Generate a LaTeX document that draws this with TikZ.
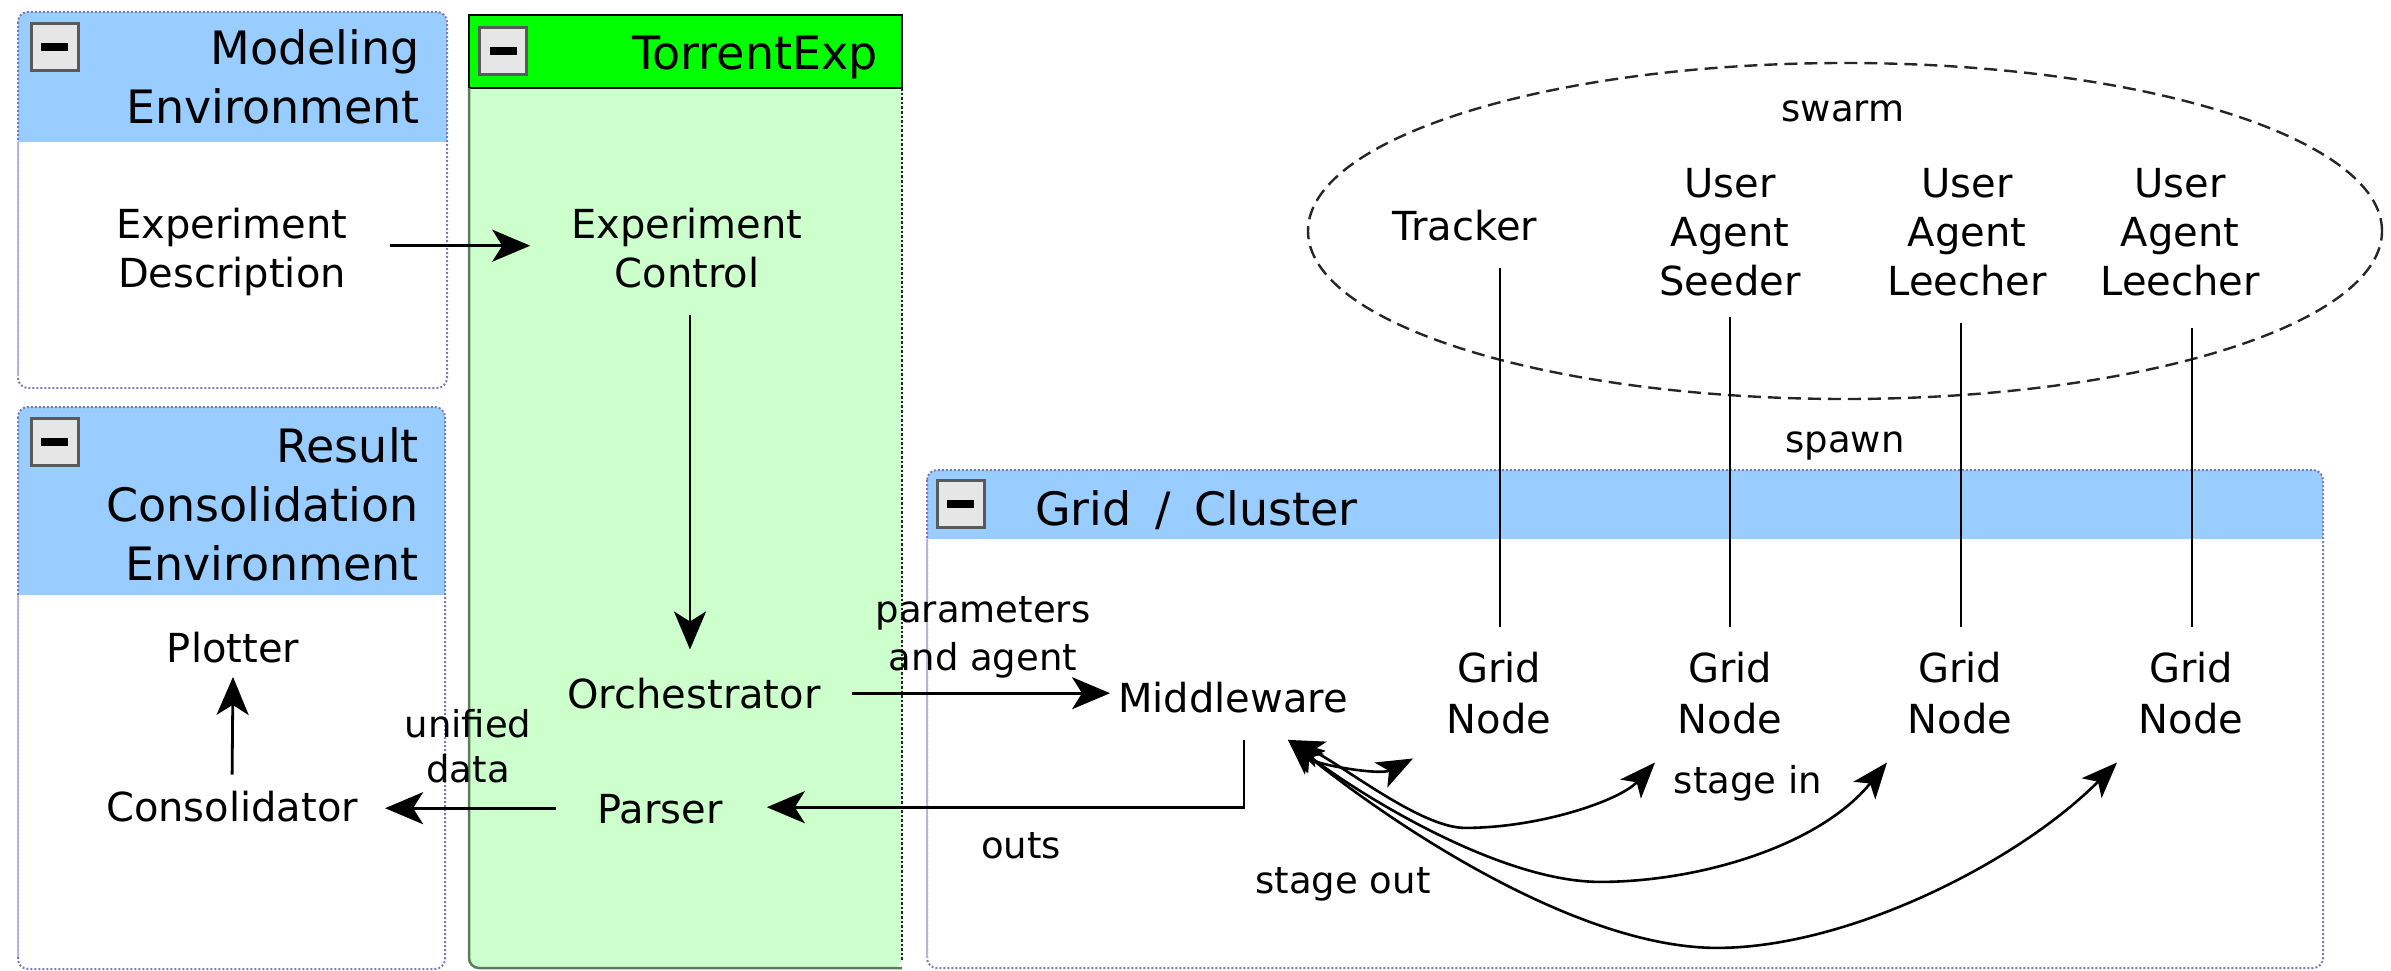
\documentclass[tikz,border=0pt]{standalone}
\usepackage{fontspec}
\setmainfont{DejaVu Sans}
\usetikzlibrary{arrows.meta,shapes.geometric}

\definecolor{hdrblue}{HTML}{99CCFF}
\definecolor{paleGreen}{HTML}{CCFFCC}
\definecolor{vividGreen}{HTML}{00FF00}
\definecolor{frameDot}{HTML}{7A7AB4}
\definecolor{frameSolid}{HTML}{B4B4DC}
\definecolor{btnFace}{HTML}{E6E6E6}
\definecolor{btnEdge}{HTML}{5A5A5A}
\definecolor{greenEdge}{HTML}{5C7C5C}

% stacked lines, the node's base is the baseline of the first line
\newcommand\mlines[2][c]{\begin{tabular}[t]{@{}#1@{}}#2\end{tabular}}

\tikzset{
  every node/.style={inner sep=0pt},
  nodetxt/.style={font=\fontsize{40}{49}\selectfont, anchor=base},
  gridtxt/.style={font=\fontsize{40}{51}\selectfont, anchor=base},
  lbltxt/.style={font=\fontsize{37}{47}\selectfont, anchor=base},
  hdrtxt/.style={font=\fontsize{46}{59}\selectfont},
  btn/.style={draw=btnEdge, fill=btnFace, line width=3pt,
              minimum width=47pt, minimum height=47pt},
  flow/.style={line width=2.8pt, -{Stealth[length=38pt,width=32pt,inset=10pt]}},
  twoway/.style={line width=2.6pt,
    {Stealth[length=36pt,width=28pt,inset=9pt]}-{Stealth[length=36pt,width=28pt,inset=9pt]}},
  spawnline/.style={line width=2.2pt},
  dotframe/.style={draw=frameDot, line width=2pt, dash pattern=on 2pt off 2pt},
}

\begin{document}
\begin{tikzpicture}[x=1pt,y=-1pt]
\useasboundingbox (0,0) rectangle (2391,971);

% ---------- Modeling Environment panel
\begin{scope}
  \clip[rounded corners=10pt] (18,12) rectangle (447,388);
  \fill[hdrblue] (18,12) rectangle (447,142);
\end{scope}
\draw[dotframe, rounded corners=10pt] (18,12) rectangle (447,388);
\draw[frameSolid, line width=2pt] (18,142) -- (18,376);
\node[btn] (btnModel) at (55,47) {\rule{27pt}{8pt}};
\node[hdrtxt, anchor=base east] (hdrModel) at (420,65) {\mlines[r]{Modeling\\Environment}};

% ---------- Result Consolidation Environment panel
\begin{scope}
  \clip[rounded corners=10pt] (18,407) rectangle (445,969);
  \fill[hdrblue] (18,407) rectangle (445,595);
\end{scope}
\draw[dotframe, rounded corners=10pt] (18,407) rectangle (445,969);
\draw[frameSolid, line width=2pt] (18,595) -- (18,957);
\node[btn] (btnResult) at (55,441.5) {\rule{27pt}{8pt}};
\node[hdrtxt, anchor=base east] (hdrResult) at (419,462) {\mlines[r]{Result\\Consolidation\\Environment}};

% ---------- TorrentExp panel
\fill[paleGreen, rounded corners=10pt] (469,15) rectangle (902,968);
\fill[vividGreen] (469,15) rectangle (902,88);
\draw[black, line width=2.2pt] (469,15) rectangle (902,88);
\draw[greenEdge, line width=2.5pt, rounded corners=10pt] (469,88) -- (469,968) -- (902,968);
\draw[draw=black!85, line width=2.6pt, dash pattern=on 2.6pt off 2pt] (902,88) -- (902,960);
\node[btn] (btnTorrent) at (503,51) {\rule{27pt}{8pt}};
\node[hdrtxt, anchor=base east] (hdrTorrent) at (878,70) {TorrentExp};

% ---------- Grid / Cluster panel
\begin{scope}
  \clip[rounded corners=10pt] (927,470) rectangle (2323,968);
  \fill[hdrblue] (927,470) rectangle (2323,539);
\end{scope}
\draw[dotframe, rounded corners=10pt] (927,470) rectangle (2323,968);
\draw[frameSolid, line width=2pt] (927,539) -- (927,958);
\node[btn] (btnGrid) at (960.5,503.5) {\rule{27pt}{8pt}};
\node[hdrtxt, anchor=base west] (hdrGrid) at (1035,525) {Grid\hspace{9pt} /\hspace{9pt} Cluster};

% ---------- swarm
\node[ellipse, draw=black!85, line width=2.4pt, dash pattern=on 13pt off 7pt,
      minimum width=1074pt, minimum height=336pt] (swarmring) at (1845,231) {};
\node[lbltxt] (swarmlbl) at (1843,122) {swarm};
\node[lbltxt] (spawnlbl) at (1845,452) {spawn};

% ---------- components
\node[nodetxt] (expdesc) at (232,238) {\mlines{Experiment\\Description}};
\node[nodetxt] (expctrl) at (687,238) {\mlines{Experiment\\Control}};
\node[nodetxt] (orch) at (694,708) {\mlines{Orchestrator}};
\node[nodetxt] (parser) at (660,823) {\mlines{Parser}};
\node[nodetxt] (plotter) at (233,662) {\mlines{Plotter}};
\node[nodetxt] (consol) at (232,821) {\mlines{Consolidator}};
\node[nodetxt] (mw) at (1233,712) {\mlines{Middleware}};

\node[nodetxt] (tracker) at (1465,240) {\mlines{Tracker}};
\node[nodetxt] (seeder) at (1730,197) {\mlines{User\\Agent\\Seeder}};
\node[nodetxt] (leechA) at (1967,197) {\mlines{User\\Agent\\Leecher}};
\node[nodetxt] (leechB) at (2180,197) {\mlines{User\\Agent\\Leecher}};

\node[gridtxt] (gnA) at (1499,682) {\mlines{Grid\\Node}};
\node[gridtxt] (gnB) at (1730,682) {\mlines{Grid\\Node}};
\node[gridtxt] (gnC) at (1960,682) {\mlines{Grid\\Node}};
\node[gridtxt] (gnD) at (2191,682) {\mlines{Grid\\Node}};

% ---------- connector labels
\node[lbltxt, font=\fontsize{37}{48}\selectfont] (lblParams) at (983,622) {\mlines{parameters\\and agent}};
\node[lbltxt, font=\fontsize{37}{45}\selectfont] (lblUnified) at (468,737) {\mlines{unified\\data}};
\node[lbltxt] (lblOuts) at (1021,858) {outs};
\node[lbltxt] (lblIn) at (1748,793) {stage in};
\node[lbltxt] (lblOut) at (1343,893) {stage out};

% ---------- flow connectors
\draw[flow, shorten <=42pt, shorten >=41pt]
  ([yshift=7pt]expdesc.east) -- ([yshift=7pt]expdesc.east -| expctrl.west);
\draw[flow, shorten <=13pt, shorten >=24pt]
  ([xshift=3pt]expctrl.south) -- ([xshift=3pt]expctrl.south |- orch.north);
\draw[flow, shorten <=31pt, shorten >=8pt]
  ([yshift=5pt]orch.east) -- ([yshift=5pt]orch.east -| mw.west);
\draw[flow, shorten <=13pt, shorten >=44pt]
  ([xshift=11pt]mw.south) |- ([yshift=6pt]parser.east);
\draw[flow, shorten <=41pt, shorten >=27pt]
  ([yshift=5pt]parser.west) -- ([yshift=5pt]parser.west -| consol.east);
\draw[flow, shorten <=12pt] (consol.north) -- (plotter.south);

% ---------- spawn lines
\draw[spawnline, shorten <=13pt, shorten >=19pt] ([xshift=1pt]tracker.south -| gnA.north) -- ([xshift=1pt]gnA.north);
\draw[spawnline, shorten <=7pt, shorten >=19pt] (seeder.south -| gnB.north) -- (gnB.north);
\draw[spawnline, shorten <=13pt, shorten >=19pt] ([xshift=1pt]leechA.south -| gnC.north) -- ([xshift=1pt]gnC.north);
\draw[spawnline, shorten <=18pt, shorten >=19pt] ([xshift=1pt]leechB.south -| gnD.north) -- ([xshift=1pt]gnD.north);

% ---------- stage in / stage out transfers
\coordinate (mwport) at ([xshift=55pt,yshift=-13pt]mw.south);
\coordinate (gninA) at ([xshift=-86pt,yshift=-10pt]gnA.south);
\coordinate (gninB) at ([xshift=-75pt,yshift=-14pt]gnB.south);
\coordinate (gninC) at ([xshift=-73pt,yshift=-14pt]gnC.south);
\coordinate (gninD) at ([xshift=-74pt,yshift=-14pt]gnD.south);

\draw[twoway] (mwport) .. controls +(27,25) and +(-33,17) .. (gninA);
\draw[twoway] (mwport) .. controls +(52,23) and +(-45,0) .. ([xshift=177pt,yshift=-88pt]mwport)
  .. controls +(75,0) and +(-35,38) .. (gninB);
\draw[twoway] (mwport) .. controls +(72,55) and +(-100,0) .. ([xshift=312pt,yshift=-142pt]mwport)
  .. controls +(100,0) and +(-67,83) .. (gninC);
\draw[twoway] (mwport) .. controls +(112,90) and +(-137,0) .. ([xshift=429pt,yshift=-208pt]mwport)
  .. controls +(133,0) and +(-97,98) .. (gninD);
\end{tikzpicture}
\end{document}
